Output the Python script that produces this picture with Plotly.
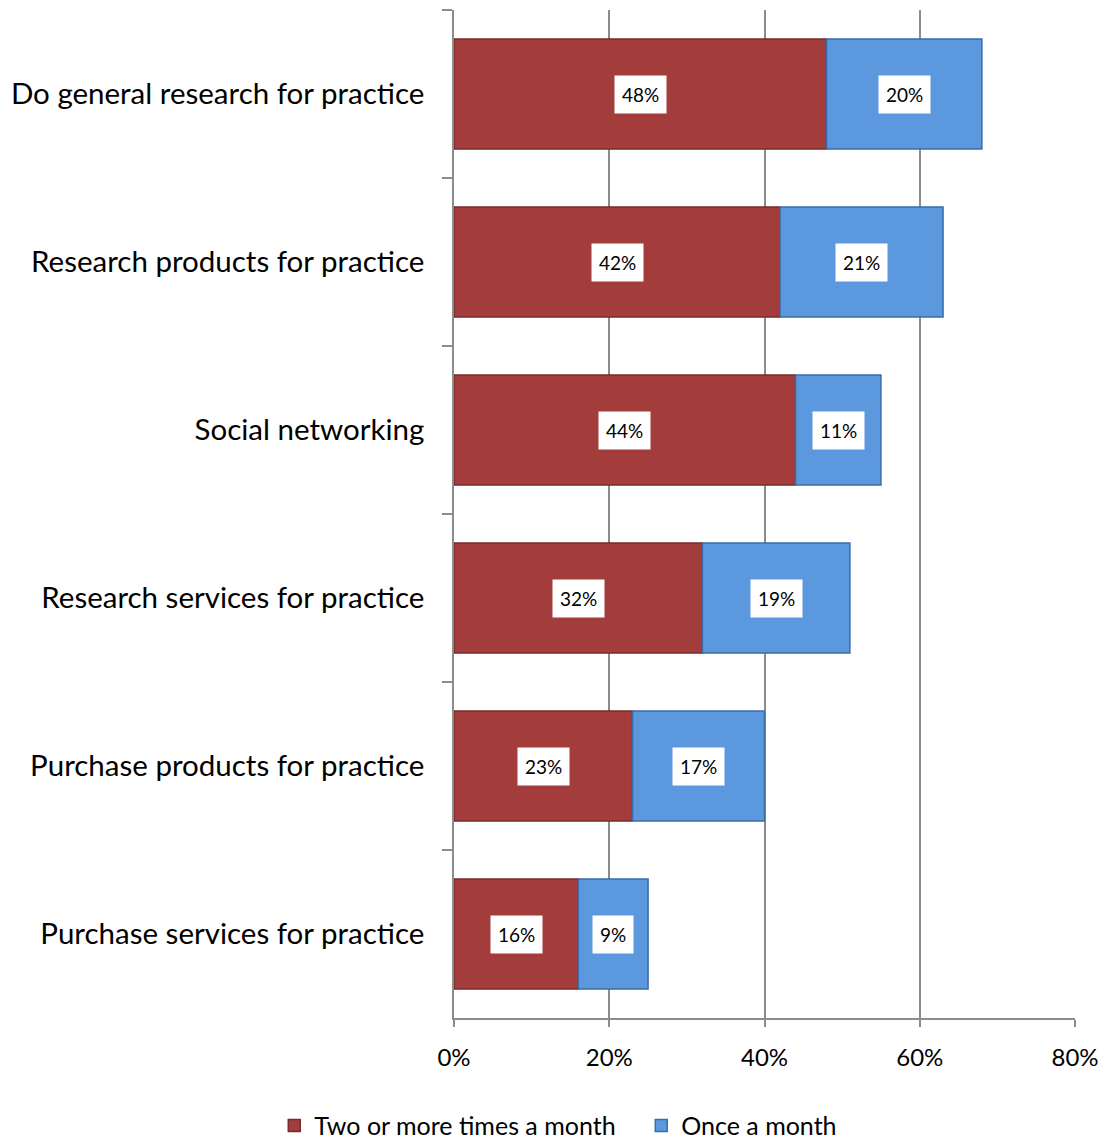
import plotly.graph_objects as go

categories = [
    "Do general research for practice",
    "Research products for practice",
    "Social networking",
    "Research services for practice",
    "Purchase products for practice",
    "Purchase services for practice",
]
two_or_more = [48, 42, 44, 32, 23, 16]
once = [20, 21, 11, 19, 17, 9]
x_ticks = [0, 20, 40, 60, 80]
x_tick_labels = ["0%", "20%", "40%", "60%", "80%"]

RED = "#A23D3B"
RED_EDGE = "#7A2A28"
BLUE = "#5B98DE"
BLUE_EDGE = "#3A6CA8"
FONT = "Lato"

fig = go.Figure()
fig.add_trace(go.Bar(
    y=categories, x=two_or_more, orientation="h",
    name="Two or more times a month",
    marker=dict(color=RED, line=dict(color=RED_EDGE, width=1.5)),
))
fig.add_trace(go.Bar(
    y=categories, x=once, orientation="h", base=two_or_more,
    name="Once a month",
    marker=dict(color=BLUE, line=dict(color=BLUE_EDGE, width=1.5)),
))

# value labels in white boxes at the centre of each segment
for cat, a, b in zip(categories, two_or_more, once):
    fig.add_annotation(x=a / 2, y=cat, text=f"{a}%", showarrow=False,
                       bgcolor="white", borderpad=7,
                       font=dict(family=FONT, size=19, color="black"))
    fig.add_annotation(x=a + b / 2, y=cat, text=f"{b}%", showarrow=False,
                       bgcolor="white", borderpad=7,
                       font=dict(family=FONT, size=19, color="black"))

fig.update_layout(
    width=1106, height=1140,
    margin=dict(l=454, r=31, t=10, b=122, autoexpand=False),
    plot_bgcolor="white", paper_bgcolor="white",
    barmode="overlay", bargap=0.345,
    font=dict(family=FONT, color="black"),
    legend=dict(orientation="h", x=-0.2894, xanchor="left",
                y=-0.107, yanchor="middle",
                font=dict(size=25), traceorder="normal", itemwidth=30,
                entrywidth=322),
    showlegend=True,
)
fig.update_xaxes(
    range=[0, 80], tickvals=x_ticks, ticktext=x_tick_labels,
    showgrid=True, gridcolor="#8C8C8C", gridwidth=1.5,
    showline=True, linecolor="#8C8C8C", linewidth=1.5,
    ticks="outside", ticklen=7, tickcolor="#8C8C8C", tickwidth=1.5,
    tickfont=dict(size=24), zeroline=False, ticklabelstandoff=10,
)
fig.update_yaxes(
    type="category", autorange="reversed", tickson="boundaries",
    showline=True, linecolor="#8C8C8C", linewidth=1.5,
    ticks="outside", ticklen=10, tickcolor="#8C8C8C", tickwidth=1.5,
    tickfont=dict(size=29.5), showgrid=False, ticklabelstandoff=22,
)

fig.write_html("out.html")
